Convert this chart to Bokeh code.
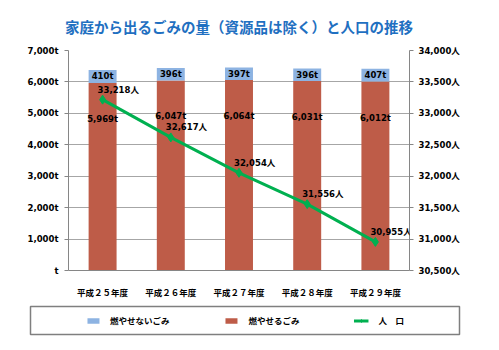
from bokeh.plotting import figure
from bokeh.models import (ColumnDataSource, FactorRange, Range1d, LinearAxis,
                          FixedTicker, Legend, LegendItem, LabelSet)
from bokeh.layouts import column
from bokeh.embed import file_html
from bokeh.resources import INLINE
from bokeh.core.properties import value

# ---- data ----
years = ["平成２５年度", "平成２６年度", "平成２７年度", "平成２８年度", "平成２９年度"]
burnable = [5969, 6047, 6064, 6031, 6012]          # 燃やせるごみ (t)
non_burnable = [410, 396, 397, 396, 407]            # 燃やせないごみ (t)
population = [33218, 32617, 32054, 31556, 30955]    # 人口 (人)

left_ticks = [0, 1000, 2000, 3000, 4000, 5000, 6000, 7000]
left_tick_labels = ["t", "1,000t", "2,000t", "3,000t", "4,000t", "5,000t", "6,000t", "7,000t"]
right_ticks = [30500, 31000, 31500, 32000, 32500, 33000, 33500, 34000]
right_tick_labels = ["30,500人", "31,000人", "31,500人", "32,000人", "32,500人",
                     "33,000人", "33,500人", "34,000人"]

title_text = "家庭から出るごみの量（資源品は除く）と人口の推移"

# ---- styles ----
RED = "#BE5C48"
BLUE = "#8DB3E2"
GREEN = "#00B050"
GRID = "#A6A6A6"
AXIS = "#868686"
NUM_FONT = "DejaVu Sans"
JP_FONT = "Noto Sans CJK JP"
MIX_FONT = f"{NUM_FONT}, {JP_FONT}"

src = ColumnDataSource(dict(
    year=years,
    burn=burnable,
    nonburn=non_burnable,
    total=[b + n for b, n in zip(burnable, non_burnable)],
    mid=[b + n / 2 for b, n in zip(burnable, non_burnable)],
    pop=population,
    burn_lbl=[f"{v:,}t" for v in burnable],
    nonburn_lbl=[f"{v:,}t" for v in non_burnable],
    pop_lbl=[f"{v:,}人" for v in population],
))

p = figure(width=499, height=300, x_range=FactorRange(*years),
           y_range=Range1d(left_ticks[0], left_ticks[-1]),
           output_backend="svg", toolbar_location=None, tools="",
           min_border_left=68, min_border_right=90, min_border_top=49,
           min_border_bottom=25)
p.frame_align = False
p.title.text = title_text
p.title.align = "center"
p.title.text_color = "#1F70C1"
p.title.text_font = JP_FONT
p.title.text_font_size = "14.5px"
p.title.text_font_style = "bold"
p.title.standoff = 27
p.outline_line_color = None
p.background_fill_color = "white"
p.border_fill_color = "white"

p.extra_y_ranges = {"pop": Range1d(right_ticks[0], right_ticks[-1])}

# bars
p.vbar(x="year", bottom=0, top="burn", width=0.41, source=src,
       fill_color=RED, line_color=None)
p.vbar(x="year", bottom="burn", top="total", width=0.41, source=src,
       fill_color=BLUE, line_color=None)

# bar labels
p.text(x="year", y="mid", text="nonburn_lbl", source=src,
       text_align="center", text_baseline="middle",
       text_font=value(NUM_FONT), text_font_size="8.5px",
       text_font_style="bold", text_color="black")
p.text(x="year", y="burn", text="burn_lbl", source=src, y_offset=36,
       text_align="center", text_baseline="middle",
       text_font=value(NUM_FONT), text_font_size="8.5px",
       text_font_style="bold", text_color="black")

# population line
p.line(x="year", y="pop", source=src, y_range_name="pop",
       line_color=GREEN, line_width=3)
p.scatter(x="year", y="pop", source=src, y_range_name="pop",
          marker="diamond", size=9, fill_color=GREEN, line_color=GREEN)
pop_labels = LabelSet(x="year", y="pop", text="pop_lbl", source=src,
                      y_range_name="pop", x_offset=-5, y_offset=10,
                      text_align="left", text_baseline="middle", level="overlay",
                      text_font=value(MIX_FONT), text_font_size=value("8.5px"),
                      text_font_style=value("bold"), text_color=value("black"))
p.add_layout(pop_labels)

# grid
p.xgrid.grid_line_color = None
p.ygrid.ticker = FixedTicker(ticks=left_ticks)
p.ygrid.grid_line_color = GRID
p.ygrid.grid_line_width = 1

# left axis
ya = p.yaxis[0]
ya.ticker = FixedTicker(ticks=left_ticks)
ya.major_label_overrides = dict(zip(left_ticks, left_tick_labels))
ya.axis_line_color = AXIS
ya.major_tick_line_color = AXIS
ya.major_tick_out = 4
ya.major_tick_in = 0
ya.minor_tick_line_color = None
ya.major_label_standoff = 6
ya.major_label_text_font = NUM_FONT
ya.major_label_text_font_size = "8.5px"
ya.major_label_text_font_style = "bold"
ya.major_label_text_color = "black"

# right axis
ra = LinearAxis(y_range_name="pop", ticker=FixedTicker(ticks=right_ticks))
ra.major_label_overrides = dict(zip(right_ticks, right_tick_labels))
ra.axis_line_color = AXIS
ra.major_tick_line_color = AXIS
ra.major_tick_out = 4
ra.major_tick_in = 0
ra.minor_tick_line_color = None
ra.major_label_standoff = 5
ra.major_label_text_font = MIX_FONT
ra.major_label_text_font_size = "8.5px"
ra.major_label_text_font_style = "bold"
ra.major_label_text_color = "black"
p.add_layout(ra, "right")

# bottom axis
xa = p.xaxis[0]
xa.axis_line_color = AXIS
xa.major_tick_line_color = None
xa.major_label_standoff = 9
xa.major_label_text_font = JP_FONT
xa.major_label_text_font_size = "8.5px"
xa.major_label_text_font_style = "bold"
xa.major_label_text_color = "black"

# ---- legend figure ----
lg = figure(width=499, height=50, x_range=Range1d(0, 1), y_range=Range1d(0, 1),
            output_backend="svg", toolbar_location=None, tools="",
            x_axis_location=None, y_axis_location=None,
            min_border_left=30, min_border_right=40, min_border_top=6,
            min_border_bottom=16)
lg.frame_align = False
lg.xgrid.grid_line_color = None
lg.ygrid.grid_line_color = None
lg.outline_line_color = "#7F7F7F"
lg.outline_line_width = 1.5
# off-screen placeholder point so that the legend glyphs get drawn
dummy = ColumnDataSource(dict(x=[-5], y=[-5], top=[-5]))
r_b = lg.vbar(x="x", top="top", width=0.1, source=dummy, fill_color=BLUE, line_color=None)
r_r = lg.vbar(x="x", top="top", width=0.1, source=dummy, fill_color=RED, line_color=None)
r_l = lg.line(x="x", y="y", source=dummy, line_color=GREEN, line_width=3)
r_m = lg.scatter(x="x", y="y", source=dummy, marker="diamond", size=7,
                 fill_color=GREEN, line_color=GREEN)
legend = Legend(items=[
    LegendItem(label="燃やせないごみ", renderers=[r_b]),
    LegendItem(label="燃やせるごみ", renderers=[r_r]),
    LegendItem(label="人　口", renderers=[r_l, r_m]),
], orientation="horizontal", location="center", spacing=54,
    glyph_width=15, glyph_height=7, label_standoff=10, label_height=10,
    padding=4, margin=0, border_line_color=None, background_fill_alpha=0,
    label_text_font=JP_FONT, label_text_font_size="8.5px",
    label_text_font_style="bold", label_text_color="black")
lg.add_layout(legend)

layout = column(p, lg, spacing=0)
open("out.html", "w").write(file_html(layout, INLINE))
